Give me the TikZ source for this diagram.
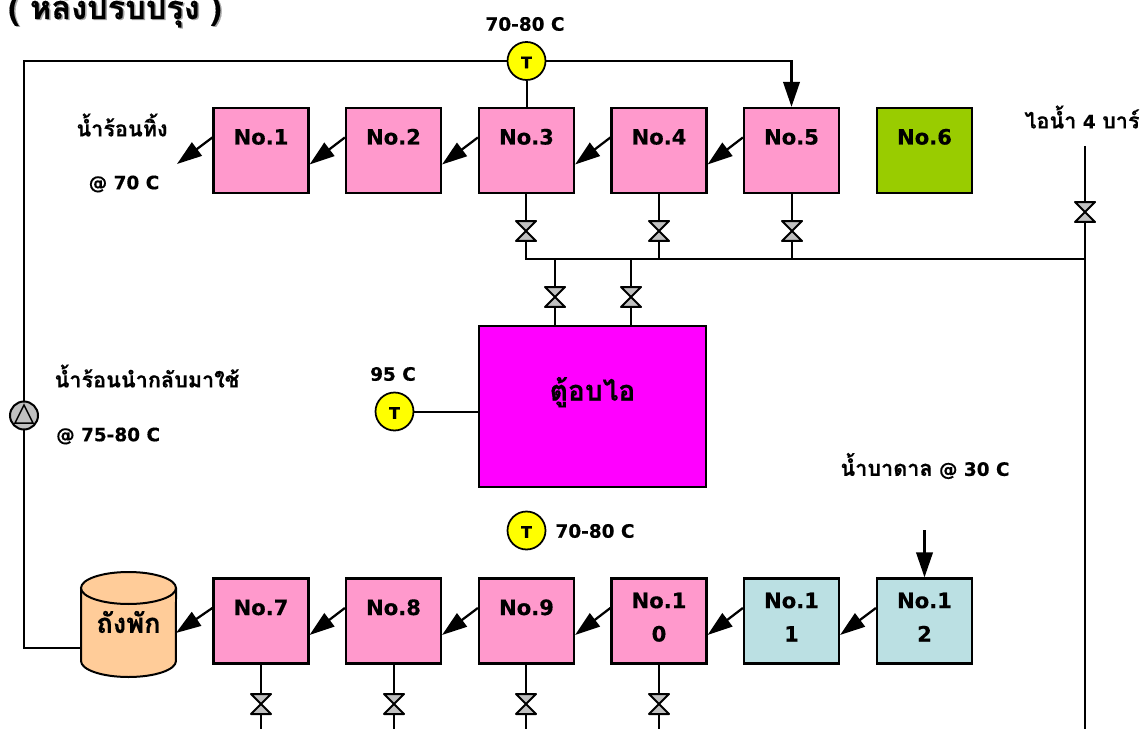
\documentclass[tikz,border=0pt]{standalone}
\usepackage{fontspec}
\setmainfont{DejaVu Sans}[BoldFeatures={FakeBold=0.4}]
\newfontfamily\thaifont[Script=Thai,BoldFeatures={FakeBold=0.4}]{Loma}
\usetikzlibrary{arrows.meta}
\definecolor{pinkbox}{HTML}{FF99CC}
\definecolor{greenbox}{HTML}{99CC00}
\definecolor{tealbox}{HTML}{BBE0E3}
\definecolor{tankfill}{HTML}{FFCC99}
\definecolor{valvegray}{HTML}{C0C0C0}
\definecolor{chamberfill}{HTML}{FF00FF}
\definecolor{sensorfill}{HTML}{FFFF00}
\tikzset{
	every node/.style = {font=\bfseries\fontsize{10.5pt}{12pt}\selectfont},
	thailabel/.style = {font=\bfseries\fontsize{12.3pt}{14pt}\thaifont},
	pipe/.style = {line width=0.04cm},
	flow/.style = {line width=0.045cm, -{Triangle[length=0.5cm, width=0.33cm]}},
	stagebox/.style = {draw, line width=0.045cm, inner sep=0pt, minimum width=1.9cm, minimum height=1.7cm,
		text height=0.73cm, text depth=0.97cm, font=\bfseries\fontsize{12pt}{19pt}\selectfont},
	stagetall/.style = {stagebox, align=center, text height=1.26cm, text depth=0.44cm},
	tsensor/.style = {draw, circle, fill=sensorfill, line width=0.035cm, inner sep=0pt, minimum size=0.76cm,
		text height=0.29cm, font=\bfseries\fontsize{9pt}{10pt}\selectfont},
	valvenode/.style = {inner sep=0pt, outer sep=0pt, minimum size=0.4cm},
	valvebody/.style = {draw, fill=valvegray, line width=0.04cm, line join=round},
	tankbody/.style = {draw, fill=tankfill, line width=0.04cm}
}
\begin{document}
\begin{tikzpicture}[x=0.02cm, y=-0.02cm]
	\useasboundingbox (0,0) rectangle (1148,729);
	\clip (0,0) rectangle (1148,729);
	% title
	\node [text=gray!70, font=\bfseries\fontsize{18.5pt}{20pt}\thaifont, anchor=base west] (titleshadow) at (3.5,20) {( หลังปรับปรุง )};
	\node [font=\bfseries\fontsize{18.5pt}{20pt}\thaifont, anchor=base west] (title) at (2,19) {( หลังปรับปรุง )};
	% upper row
	\foreach \n/\x in {1/261, 2/393.5, 3/526.5, 4/659, 5/791.5}
		\node [stagebox, fill=pinkbox] (no\n) at (\x,150.5) {No.\n};
	\node [stagebox, fill=greenbox] (no6) at (924.5,150.5) {No.6};
	% lower row
	\foreach \n/\x in {7/261, 8/393.5, 9/526.5}
		\node [stagebox, fill=pinkbox] (no\n) at (\x,621) {No.\n};
	\node [stagetall, fill=pinkbox] (no10) at (659,621) {No.1\\0};
	\node [stagetall, fill=tealbox] (no11) at (791.5,621) {No.1\\1};
	\node [stagetall, fill=tealbox] (no12) at (924.5,621) {No.1\\2};
	% steam chamber and tank
	\node [draw, fill=chamberfill, line width=0.045cm, inner sep=0pt, minimum width=4.54cm, minimum height=3.22cm,
		text height=0.66cm, text depth=0.9cm, font=\bfseries\fontsize{16pt}{18pt}\thaifont] (chamber) at (592.5,406.5) {ตู้อบไอ};
	\draw [tankbody] (81,588) -- (81,661) arc [start angle=180, end angle=360, x radius=0.95cm, y radius=0.32cm] -- (176,588);
	\draw [tankbody] (128.5,588) ellipse [x radius=0.95cm, y radius=0.32cm];
	\node [inner sep=0pt, outer sep=0pt, minimum width=1.9cm, minimum height=2.1cm, font=\bfseries\fontsize{15.5pt}{15pt}\thaifont] (tank) at (128.5,622) {ถังพัก};
	% sensors and pump
	\node [tsensor] (temptop) at (526.5,61) {T};
	\node [tsensor] (tempchamber) at (394.5,411.5) {T};
	\node [tsensor] (templow) at (526.5,530.5) {T};
	\node [draw, circle, fill=valvegray, line width=0.04cm, inner sep=0pt, minimum size=0.56cm] (pump) at (24,415.5) {};
	\draw [line width=0.03cm] (24,405) -- (15,423) -- (33,423) -- cycle;
	% valves
	\foreach \name/\x/\y in {va/526/231, vb/659/231, vc/792/231, vd/555/297, ve/631/297, vs/1085/212,
			vf/261/704, vg/394/704, vh/526/704, vi/659/704}
	{
		\node [valvenode] (\name) at (\x,\y) {};
		\draw [valvebody] (\name.north west) -- (\name.north east) -- (\name.south west) -- (\name.south east) -- cycle;
	}
	\coordinate (headerr) at (1085,259);
	\coordinate (steamin) at (1085,146);
	\coordinate (steamout) at (1085,729);
	\coordinate (wastedrop) at (177,164);
	\coordinate (wellin) at (924.5,530);
	\foreach \v in {vf, vg, vh, vi}
		\coordinate (\v end) at (\v.south |- steamout);
	% pipes
	\draw [pipe] (temptop.west) -| (pump.north);
	\draw [pipe] (pump.south) |- ([yshift=-0.52cm]tank.west);
	\draw [pipe] (temptop.south) -- (no3.north);
	\draw [pipe] (tempchamber.east) -- (tempchamber.east -| chamber.west);
	\draw [pipe] (no3.south -| va) -- (va.north);
	\draw [pipe] (no4.south -| vb) -- (vb.north);
	\draw [pipe] (no5.south -| vc) -- (vc.north);
	\draw [pipe] (va.south) |- (headerr);
	\draw [pipe] (vb.south) -- (vb.south |- headerr);
	\draw [pipe] (vc.south) -- (vc.south |- headerr);
	\draw [pipe] (vd.north |- headerr) -- (vd.north);
	\draw [pipe] (ve.north |- headerr) -- (ve.north);
	\draw [pipe] (vd.south) -- (vd.south |- chamber.north);
	\draw [pipe] (ve.south) -- (ve.south |- chamber.north);
	\draw [pipe] (steamin) -- (vs.north);
	\draw [pipe] (vs.south) -- (steamout);
	\draw [pipe] (no7.south -| vf) -- (vf.north);
	\draw [pipe] (no8.south -| vg) -- (vg.north);
	\draw [pipe] (no9.south -| vh) -- (vh.north);
	\draw [pipe] (no10.south -| vi) -- (vi.north);
	\foreach \v in {vf, vg, vh, vi}
		\draw [pipe] (\v.south) -- (\v end);
	% flow arrows
	\draw [flow] (temptop.east) -| (no5.north);
	\draw [flow] (wellin) -- (no12.north);
	\draw [flow] (no1.165) -- (wastedrop);
	\draw [flow] (no2.165) -- (no1.-16);
	\draw [flow] (no3.165) -- (no2.-16);
	\draw [flow] (no4.165) -- (no3.-16);
	\draw [flow] (no5.165) -- (no4.-16);
	\draw [flow] (no7.165) -- (tank.-13);
	\draw [flow] (no8.165) -- (no7.-16);
	\draw [flow] (no9.165) -- (no8.-16);
	\draw [flow] (no10.165) -- (no9.-16);
	\draw [flow] (no11.165) -- (no10.-16);
	\draw [flow] (no12.165) -- (no11.-16);
	% labels
	\node (lbltop) at (525,24) {70-80 C};
	\node (lblchamber) at (393,374) {95 C};
	\node (lbllow) at (595,531) {70-80 C};
	\node [thailabel] (lblwaste) at (122,125) {น้ำร้อนทิ้ง};
	\node (lblwastet) at (124,184) {@ 70 C};
	\node [thailabel] (lblreuse) at (147,376) {น้ำร้อนนำกลับมาใช้};
	\node [anchor=west] (lblreuset) at (50,436) {@ 75-80 C};
	\node (lblwell) at (925,466) {{\thaifont\fontsize{12.3pt}{14pt}\selectfont น้ำบาดาล} @ 30 C};
	\node (lblsteam) at (1082,117) {{\thaifont\fontsize{12.3pt}{14pt}\selectfont ไอน้ำ} 4 {\thaifont\fontsize{12.3pt}{14pt}\selectfont บาร์}};
\end{tikzpicture}
\end{document}
